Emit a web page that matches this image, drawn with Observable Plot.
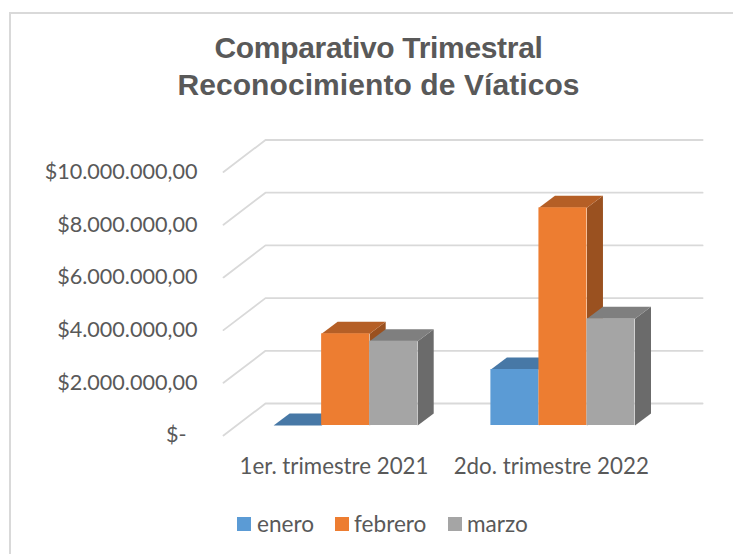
<!DOCTYPE html>
<html lang="es">
<head>
<meta charset="utf-8">
<title>Comparativo Trimestral</title>
<script src="https://cdn.jsdelivr.net/npm/d3@7"></script>
<script src="https://cdn.jsdelivr.net/npm/@observablehq/plot@0.6"></script>
<style>
  html, body { margin: 0; padding: 0; background: #fff; }
  #page { position: relative; width: 733px; height: 554px; overflow: hidden; color: #595959; font-family: Lato, sans-serif; }
  #frame { position: absolute; left: 9px; top: 12px; width: 900px; height: 800px; border: 2px solid #d9d9d9; box-sizing: border-box; }
  #title { position: absolute; left: 0; width: 757px; top: 29px; text-align: center; font: bold 30px/37px "Liberation Sans", sans-serif; color: #595959; }
  #title .l1 { letter-spacing: -0.32px; }
  #title .l2 { letter-spacing: 0.08px; }
  #chart { position: absolute; left: 0; top: 0; }
  #legend { position: absolute; top: 510px; left: 0; height: 28px; font-size: 22.6px; line-height: 28px; }
  #legend span { position: absolute; white-space: nowrap; }
  #legend i { position: absolute; width: 14px; height: 14px; top: 7px; }
</style>
</head>
<body>
<div id="page">
  <div id="frame"></div>
  <div id="chart"></div>
  <div id="title"><span class="l1">Comparativo Trimestral</span><br><span class="l2">Reconocimiento de Víaticos</span></div>
  <div id="legend"></div>
</div>
<script>
const categories = ["1er. trimestre 2021", "2do. trimestre 2022"];
const seriesNames = ["enero", "febrero", "marzo"];
const enero = [0, 2125000];
const febrero = [3480000, 8260000];
const marzo = [3200000, 4050000];
const yTicks = [0, 2000000, 4000000, 6000000, 8000000, 10000000];

const seriesValues = [enero, febrero, marzo];
const frontColors = ["#5b9bd5", "#ed7d31", "#a5a5a5"];
const topColors = ["#4778a6", "#b55f26", "#7f7f7f"];
const sideColors = ["#3f6b94", "#9a5120", "#6b6b6b"];

// Depth of the pseudo-3D box, in data units (category widths / dollars)
const catPx = 217.3;
const wallFront = {dx: -13.5 / catPx, dy: -380000};
const wallBack = {dx: 28.5 / catPx, dxEnd: 31 / catPx, dy: 835000};
const barDepth = {dx: 16 / catPx, dy: 455000};
const gapShare = 36.6 / catPx;
const slot = (1 - 2 * gapShare) / 3;

const gridRows = yTicks.flatMap(v => [
  {v, x: wallFront.dx, y: v + wallFront.dy},
  {v, x: wallBack.dx, y: v + wallBack.dy},
  {v, x: 2 + wallBack.dxEnd, y: v + wallBack.dy}
]);

const bars = seriesNames.map((name, s) =>
  categories.map((c, i) => {
    const x1 = i + gapShare + s * slot;
    return {id: name + i, s, x1, x2: x1 + slot, v: seriesValues[s][i]};
  })
);

const topFace = b => [
  {id: b.id, x: b.x1, y: b.v},
  {id: b.id, x: b.x2, y: b.v},
  {id: b.id, x: b.x2 + barDepth.dx, y: b.v + barDepth.dy},
  {id: b.id, x: b.x1 + barDepth.dx, y: b.v + barDepth.dy}
];
const sideFace = b => [
  {id: b.id, x: b.x2, y: 0},
  {id: b.id, x: b.x2 + barDepth.dx, y: barDepth.dy},
  {id: b.id, x: b.x2 + barDepth.dx, y: b.v + barDepth.dy},
  {id: b.id, x: b.x2, y: b.v}
];

const barMarks = bars.flatMap((rows, s) => {
  const solid = rows.filter(b => b.v > 0);
  return [
    Plot.line(solid.flatMap(sideFace), {x: "x", y: "y", z: "id", fill: sideColors[s], stroke: "none"}),
    Plot.line(rows.flatMap(topFace), {x: "x", y: "y", z: "id", fill: topColors[s], stroke: "none"}),
    Plot.rectY(solid, {x1: "x1", x2: "x2", y1: 0, y2: "v", fill: frontColors[s], insetLeft: 0, insetRight: 0})
  ];
});

const dollars = v => v === 0
  ? "$-\u00a0\u00a0"
  : "$" + d3.format(",.2f")(v).replace(/,/g, "#").replace(".", ",").replace(/#/g, ".");

const chart = Plot.plot({
  width: 733,
  height: 554,
  marginLeft: 236.5,
  marginRight: 61.9,
  marginTop: 161.5,
  marginBottom: 129,
  x: {type: "linear", domain: [0, 2]},
  y: {domain: [0, 10000000]},
  style: {background: "transparent", color: "#595959", fontFamily: "Lato, sans-serif", overflow: "visible"},
  marks: [
    Plot.line(gridRows, {x: "x", y: "y", z: "v", stroke: "#d9d9d9", strokeWidth: 1.8}),
    ...barMarks,
    Plot.axisY({ticks: yTicks, tickSize: 0, tickPadding: 39.5, dy: 10, label: null, tickFormat: dollars, fontSize: 21.6, fill: "#595959"}),
    Plot.axisX({ticks: [0.5, 1.5], tickSize: 0, tickPadding: 33, dx: -11.7, label: null, tickFormat: t => categories[Math.floor(t)], fontSize: 22.3, fill: "#595959"})
  ]
});
document.getElementById("chart").append(chart);

const legendX = [[237, 257], [335, 354], [448, 467]];
const legend = document.getElementById("legend");
seriesNames.forEach((name, s) => {
  const sw = document.createElement("i");
  sw.style.left = legendX[s][0] + "px";
  sw.style.background = frontColors[s];
  const lb = document.createElement("span");
  lb.style.left = legendX[s][1] + "px";
  lb.textContent = name;
  legend.append(sw, lb);
});
</script>
</body>
</html>
